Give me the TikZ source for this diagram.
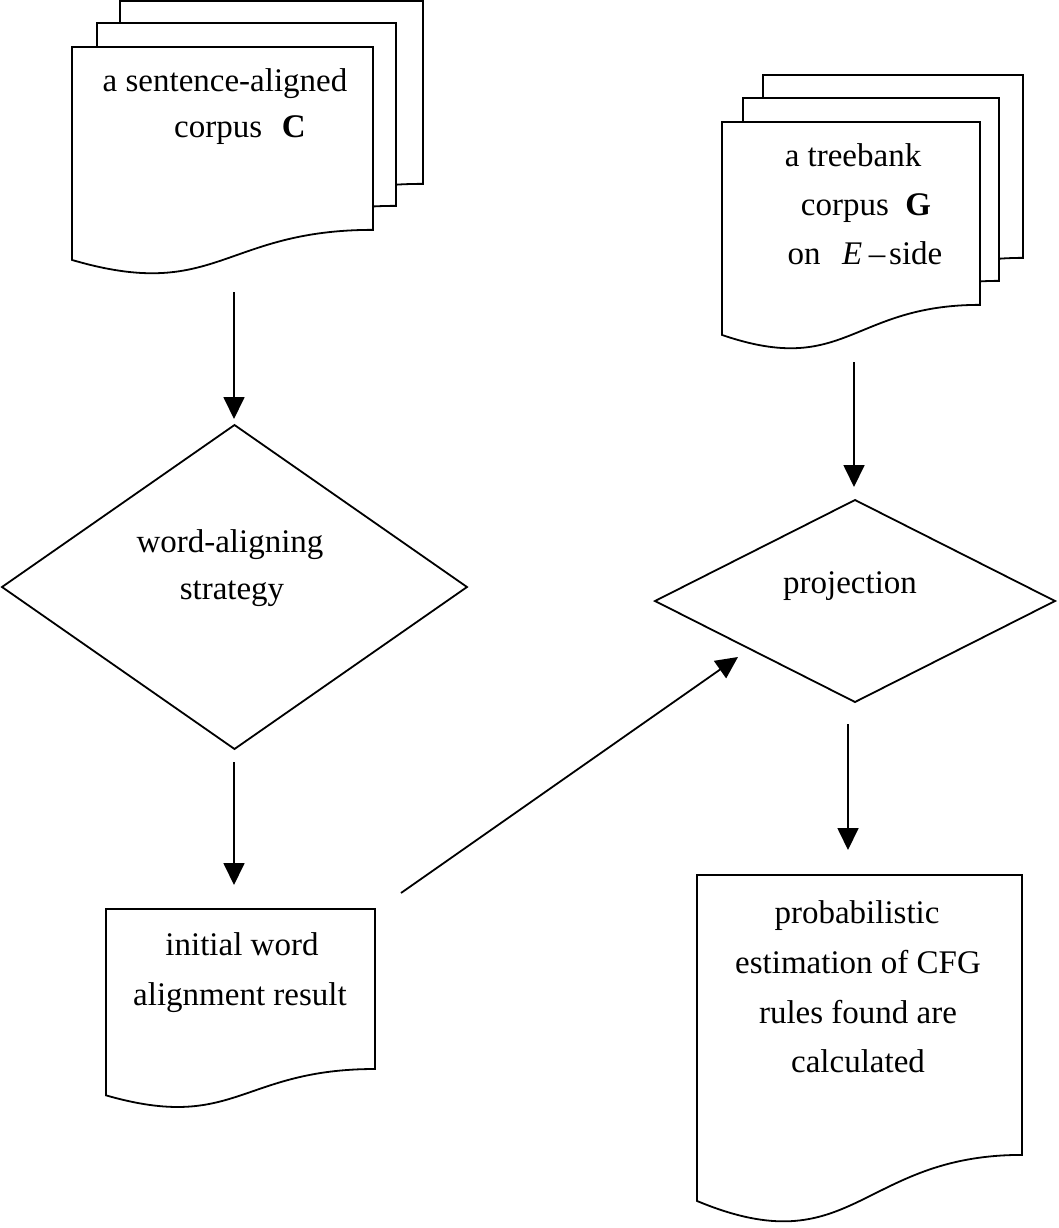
\documentclass[tikz,border=0pt]{standalone}
\usepackage{fontspec}
\setmainfont{Liberation Serif}
\usetikzlibrary{arrows.meta,shapes.geometric}
\tikzset{
  ln/.style={line width=1.8pt, line join=miter},
  sheet/.style={ln, fill=white},
  flow/.style={ln, -{Triangle[length=22pt,width=21pt]}},
  decision/.style={ln, shape=diamond, draw, inner sep=0pt, outer sep=0pt},
  txt/.style={anchor=base, inner sep=0pt, font=\fontsize{33}{50}\selectfont}
}
% document sheet: #1 left, #2 top, #3 width, #4 height
\newcommand{\docsheet}[4]{%
  \draw[sheet] (#1,#2) -- ({#1+#3},#2) -- ({#1+#3},{#2+0.802*#4})
    .. controls ({#1+0.5*#3},{#2+0.802*#4}) and ({#1+0.48*#3},{#2+1.12*#4}) ..
    (#1,{#2+0.934*#4}) -- cycle;}
\begin{document}
\begin{tikzpicture}[x=1pt,y=-1pt]
\useasboundingbox (0,0) rectangle (1059,1228);
% top-left multi-document
\docsheet{120}{1}{303}{228}
\docsheet{97}{23}{299}{228}
\docsheet{72}{47}{301}{228}
\node[txt] (c1) at (225,92) {a sentence-aligned};
\node[txt] (c2) at (240,138) {corpus\hspace{0.6em}\textbf{C}};
% top-right multi-document
\docsheet{763}{75}{260}{228}
\docsheet{743}{98}{256}{228}
\docsheet{722}{122}{258}{228}
\node[txt] (g1) at (853,166) {a treebank};
\node[txt] (g2) at (866,215) {corpus\hspace{0.5em}\textbf{G}};
\node[txt] (g3) at (865,264) {on\hspace{0.65em}\textit{E}\hspace{0.2em}–\hspace{0.12em}side};
% diamonds
\node[decision, minimum width=465pt, minimum height=324pt] (wa) at (234.5,587) {};
\node[txt] (wa1) at (230,552) {word-aligning};
\node[txt] (wa2) at (232,599) {strategy};
\node[decision, minimum width=400pt, minimum height=202pt] (pr) at (855,601) {};
\node[txt] (pr1) at (850,593) {projection};
% bottom-left document
\docsheet{106}{909}{269}{199.5}
\node[txt] (iw1) at (242,955) {initial word};
\node[txt] (iw2) at (240,1005) {alignment result};
% bottom-right document
\docsheet{697}{875}{325}{349}
\node[txt] (pe1) at (857,923) {probabilistic};
\node[txt] (pe2) at (858,973) {estimation of CFG};
\node[txt] (pe3) at (858,1023) {rules found are};
\node[txt] (pe4) at (858,1072) {calculated};
% connector end points
\coordinate (a1s) at (234,292);
\coordinate (a1e) at (234,419);
\coordinate (a2s) at (234,762);
\coordinate (a2e) at (234,885);
\coordinate (a3s) at (854,362);
\coordinate (a3e) at (854,487);
\coordinate (a4s) at (848,724);
\coordinate (a4e) at (848,850);
\coordinate (a5s) at (401,893);
\coordinate (a5e) at (738,657);
\draw[flow] (a1s) -- (a1e);
\draw[flow] (a2s) -- (a2e);
\draw[flow] (a3s) -- (a3e);
\draw[flow] (a4s) -- (a4e);
\draw[flow] (a5s) -- (a5e);
\end{tikzpicture}
\end{document}
